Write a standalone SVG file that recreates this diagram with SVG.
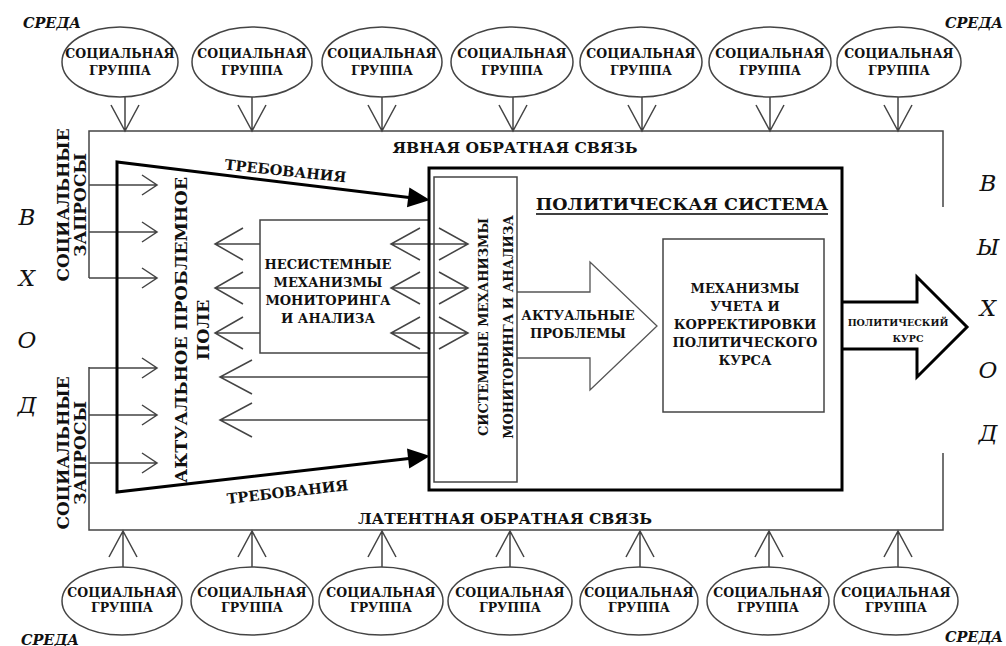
<svg xmlns="http://www.w3.org/2000/svg" width="1006" height="646" viewBox="0 0 1006 646" font-family="'DejaVu Serif', 'Liberation Serif', serif">
<style>
text{font-weight:bold;fill:#111;text-anchor:middle}
.el{fill:#fff;stroke:#444;stroke-width:1.5}
.eg{font-size:12.5px}
.thin{fill:none;stroke:#444;stroke-width:1.5}
.thick{fill:none;stroke:#000;stroke-width:3}
.it{font-style:italic;font-weight:normal;font-size:23px}
.sr{font-style:italic;font-size:14.5px}
.m15{font-size:13px}
</style>
<rect width="1006" height="646" fill="#fff"/>

<g id="env-labels">
<text class="sr" x="52" y="28">СРЕДА</text>
<text class="sr" x="974" y="28">СРЕДА</text>
<text class="sr" x="50" y="645">СРЕДА</text>
<text class="sr" x="974" y="642">СРЕДА</text>
</g>

<g id="input-label">
<text class="it" x="27" y="225">В</text>
<text class="it" x="27" y="286">Х</text>
<text class="it" x="27" y="348">О</text>
<text class="it" x="27" y="413">Д</text>
</g>
<g id="output-label">
<text class="it" x="988" y="191">В</text>
<text class="it" x="988" y="255">Ы</text>
<text class="it" x="988" y="316">Х</text>
<text class="it" x="988" y="378">О</text>
<text class="it" x="988" y="441">Д</text>
</g>

<g id="top-groups">
<g id="sg-t1"><ellipse class="el" cx="120" cy="62" rx="58" ry="35"/><text class="eg" x="120" y="58">СОЦИАЛЬНАЯ</text><text class="eg" x="120" y="75">ГРУППА</text></g>
<g id="sg-t2"><ellipse class="el" cx="252" cy="62" rx="60" ry="35"/><text class="eg" x="252" y="58">СОЦИАЛЬНАЯ</text><text class="eg" x="252" y="75">ГРУППА</text></g>
<g id="sg-t3"><ellipse class="el" cx="382" cy="62" rx="60" ry="35"/><text class="eg" x="382" y="58">СОЦИАЛЬНАЯ</text><text class="eg" x="382" y="75">ГРУППА</text></g>
<g id="sg-t4"><ellipse class="el" cx="512" cy="62" rx="61" ry="35"/><text class="eg" x="512" y="58">СОЦИАЛЬНАЯ</text><text class="eg" x="512" y="75">ГРУППА</text></g>
<g id="sg-t5"><ellipse class="el" cx="641" cy="62" rx="61" ry="35"/><text class="eg" x="641" y="58">СОЦИАЛЬНАЯ</text><text class="eg" x="641" y="75">ГРУППА</text></g>
<g id="sg-t6"><ellipse class="el" cx="770" cy="62" rx="61" ry="35"/><text class="eg" x="770" y="58">СОЦИАЛЬНАЯ</text><text class="eg" x="770" y="75">ГРУППА</text></g>
<g id="sg-t7"><ellipse class="el" cx="899" cy="62" rx="62" ry="35"/><text class="eg" x="899" y="58">СОЦИАЛЬНАЯ</text><text class="eg" x="899" y="75">ГРУППА</text></g>
</g>

<g id="bottom-groups">
<g id="sg-b1"><ellipse class="el" cx="122" cy="601" rx="60" ry="34"/><text class="eg" x="122" y="597">СОЦИАЛЬНАЯ</text><text class="eg" x="122" y="612">ГРУППА</text></g>
<g id="sg-b2"><ellipse class="el" cx="252" cy="601" rx="61" ry="34"/><text class="eg" x="252" y="597">СОЦИАЛЬНАЯ</text><text class="eg" x="252" y="612">ГРУППА</text></g>
<g id="sg-b3"><ellipse class="el" cx="381" cy="601" rx="62" ry="34"/><text class="eg" x="381" y="597">СОЦИАЛЬНАЯ</text><text class="eg" x="381" y="612">ГРУППА</text></g>
<g id="sg-b4"><ellipse class="el" cx="510" cy="601" rx="62" ry="34"/><text class="eg" x="510" y="597">СОЦИАЛЬНАЯ</text><text class="eg" x="510" y="612">ГРУППА</text></g>
<g id="sg-b5"><ellipse class="el" cx="639" cy="601" rx="59" ry="34"/><text class="eg" x="639" y="597">СОЦИАЛЬНАЯ</text><text class="eg" x="639" y="612">ГРУППА</text></g>
<g id="sg-b6"><ellipse class="el" cx="768" cy="601" rx="61" ry="34"/><text class="eg" x="768" y="597">СОЦИАЛЬНАЯ</text><text class="eg" x="768" y="612">ГРУППА</text></g>
<g id="sg-b7"><ellipse class="el" cx="896" cy="601" rx="62" ry="34"/><text class="eg" x="896" y="597">СОЦИАЛЬНАЯ</text><text class="eg" x="896" y="612">ГРУППА</text></g>
</g>

<g id="connectors">
<path class="thin" d="M89,278 V131 H943 V207 M943,453 V530 H89 V367"/>
<path class="thin" d="M125,97 V131 M111,105 L125,131 L139,105
M252,97 V131 M238,105 L252,131 L266,105
M382,97 V131 M368,105 L382,131 L396,105
M513,97 V131 M499,105 L513,131 L527,105
M642,97 V131 M628,105 L642,131 L656,105
M770,97 V131 M756,105 L770,131 L784,105
M898,97 V131 M884,105 L898,131 L912,105"/>
<path class="thin" d="M123,567 V531 M109,557 L123,531 L137,557
M252,567 V531 M238,557 L252,531 L266,557
M382,567 V531 M368,557 L382,531 L396,557
M510,567 V531 M496,557 L510,531 L524,557
M640,567 V531 M626,557 L640,531 L654,557
M769,567 V531 M755,557 L769,531 L783,557
M898,567 V531 M884,557 L898,531 L912,557"/>
<path class="thin" d="M89,185 H157 M142,175 L157,185 L142,195
M89,232 H157 M142,222 L157,232 L142,242
M89,278 H157 M142,268 L157,278 L142,288
M89,368 H157 M142,358 L157,368 L142,378
M89,415 H157 M142,405 L157,415 L142,425
M89,463 H157 M142,453 L157,463 L142,473"/>
<path class="thin" d="M260,244 H215 M243,228 L215,244 L243,260
M260,288 H215 M243,272 L215,288 L243,304
M260,333 H215 M243,317 L215,333 L243,349"/>
<path class="thin" d="M391,244 H468 M420,228 L391,244 L420,260 M439,228 L468,244 L439,260
M391,288 H468 M420,272 L391,288 L420,304 M439,272 L468,288 L439,304
M391,333 H468 M420,317 L391,333 L420,349 M439,317 L468,333 L439,349"/>
<path class="thin" d="M429,377 H220 M252,360 L220,377 L252,394
M429,420 H220 M252,403 L220,420 L252,437"/>
<path class="thick" d="M409,197.5 L117,162 L117,492 L409,458.5"/>
<polygon points="430,200 407,207.3 409.4,187.5" fill="#000"/>
<polygon points="430,456 409.2,468.4 407,448.6" fill="#000"/>
<text font-size="14.5" transform="translate(285,176) rotate(6)">ТРЕБОВАНИЯ</text>
<text font-size="14.5" transform="translate(288,497) rotate(-6.5)">ТРЕБОВАНИЯ</text>
<path d="M517,292 H590 V262 L657,326 L590,390 V358 H517" fill="#fff" stroke="#555" stroke-width="1.3"/>
<text class="m15" x="578" y="320">АКТУАЛЬНЫЕ</text>
<text class="m15" x="578" y="338">ПРОБЛЕМЫ</text>
<path d="M842,302 H917 V277 L967,327 L917,377 V349 H842" fill="#fff" stroke="#000" stroke-width="3"/>
<text font-size="9.5" x="898" y="326">ПОЛИТИЧЕСКИЙ</text>
<text font-size="9.5" x="908" y="342">КУРС</text>
</g>

<g id="feedback-labels">
<text font-size="15.5" x="515" y="153">ЯВНАЯ ОБРАТНАЯ СВЯЗЬ</text>
<text font-size="15.5" x="505" y="524">ЛАТЕНТНАЯ ОБРАТНАЯ СВЯЗЬ</text>
</g>

<g id="social-requests-top">
<text font-size="17" transform="translate(69,205) rotate(-90)">СОЦИАЛЬНЫЕ</text>
<text font-size="17" transform="translate(86,205) rotate(-90)">ЗАПРОСЫ</text>
</g>
<g id="social-requests-bottom">
<text font-size="17" transform="translate(69,453) rotate(-90)">СОЦИАЛЬНЫЕ</text>
<text font-size="17" transform="translate(86,453) rotate(-90)">ЗАПРОСЫ</text>
</g>

<g id="problem-field">
<text font-size="17.5" transform="translate(187,330) rotate(-90)">АКТУАЛЬНОЕ ПРОБЛЕМНОЕ</text>
<text font-size="17.5" transform="translate(209,330) rotate(-90)">ПОЛЕ</text>
</g>

<g id="non-system">
<path class="thin" d="M429,220 H260 V353 H429"/>
<text class="m15" x="328" y="269">НЕСИСТЕМНЫЕ</text>
<text class="m15" x="328" y="287">МЕХАНИЗМЫ</text>
<text class="m15" x="328" y="305">МОНИТОРИНГА</text>
<text class="m15" x="328" y="323">И АНАЛИЗА</text>
</g>

<g id="political-system">
<rect x="429" y="168" width="413" height="322" class="thick"/>
<text font-size="17.5" x="682" y="210">ПОЛИТИЧЕСКАЯ СИСТЕМА</text>
<line x1="536" y1="214" x2="828" y2="214" stroke="#000" stroke-width="1.5"/>
</g>

<g id="system-mechanisms">
<rect x="434" y="177" width="83" height="305" class="thin"/>
<text class="m15" transform="translate(488,327) rotate(-90)">СИСТЕМНЫЕ МЕХАНИЗМЫ</text>
<text class="m15" transform="translate(513,327) rotate(-90)">МОНИТОРИНГА И АНАЛИЗА</text>
</g>

<g id="correction-mechanisms">
<rect x="663" y="239" width="161" height="173" class="thin"/>
<text class="m15" x="745" y="293">МЕХАНИЗМЫ</text>
<text class="m15" x="745" y="311">УЧЕТА И</text>
<text class="m15" x="745" y="329">КОРРЕКТИРОВКИ</text>
<text class="m15" x="745" y="347">ПОЛИТИЧЕСКОГО</text>
<text class="m15" x="745" y="365">КУРСА</text>
</g>
</svg>
